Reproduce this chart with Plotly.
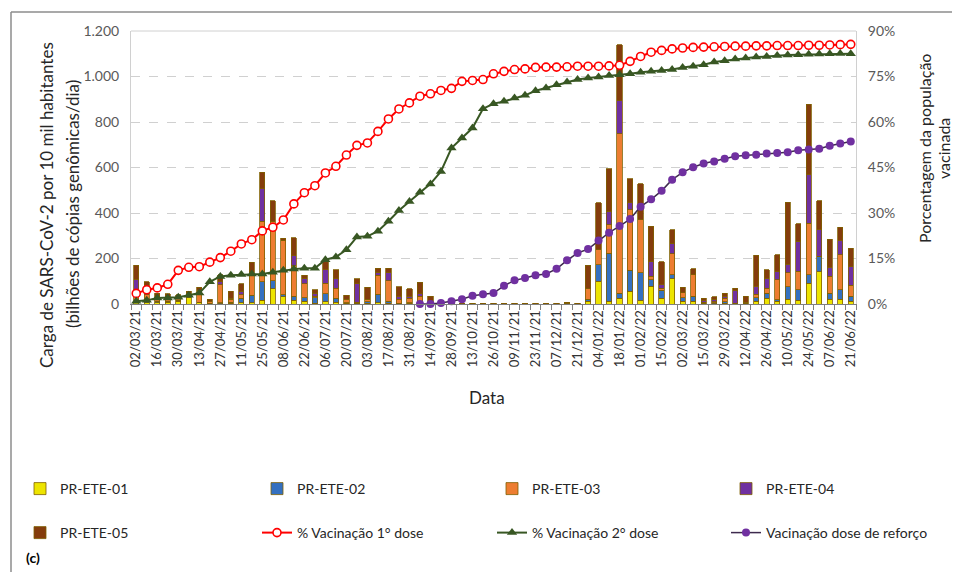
import plotly.graph_objects as go

datas = ["02/03/21", "09/03/21", "16/03/21", "23/03/21", "30/03/21", "06/04/21", "13/04/21", "20/04/21",
         "27/04/21", "04/05/21", "11/05/21", "18/05/21", "25/05/21", "01/06/21", "08/06/21", "15/06/21",
         "22/06/21", "29/06/21", "06/07/21", "13/07/21", "20/07/21", "27/07/21", "03/08/21", "10/08/21",
         "17/08/21", "24/08/21", "31/08/21", "07/09/21", "14/09/21", "21/09/21", "28/09/21", "05/10/21",
         "13/10/21", "19/10/21", "26/10/21", "02/11/21", "09/11/21", "16/11/21", "23/11/21", "30/11/21",
         "07/12/21", "14/12/21", "21/12/21", "28/12/21", "04/01/22", "11/01/22", "18/01/22", "25/01/22",
         "01/02/22", "08/02/22", "15/02/22", "22/02/22", "02/03/22", "08/03/22", "15/03/22", "22/03/22",
         "29/03/22", "05/04/22", "12/04/22", "19/04/22", "26/04/22", "03/05/22", "10/05/22", "17/05/22",
         "24/05/22", "31/05/22", "07/06/22", "14/06/22", "21/06/22"]

ete01 = [5, 5, 6, 8, 12, 30, 5, 2, 2, 3, 6, 5, 16, 67, 31, 16, 12, 3, 10, 7, 3, 2, 3, 6, 4, 2, 3, 5, 1,
         0, 0, 0, 0, 0, 0, 0, 0, 0, 0, 0, 0, 0, 0, 12, 100, 12, 26, 56, 15, 78, 25, 110, 12, 12, 3, 2, 4,
         4, 3, 12, 26, 12, 22, 16, 92, 141, 22, 22, 12]
ete02 = [8, 10, 6, 5, 4, 3, 3, 2, 3, 5, 20, 34, 81, 35, 10, 18, 15, 25, 35, 19, 3, 2, 6, 37, 8, 2, 3, 7, 2,
         0, 0, 0, 0, 0, 0, 0, 0, 0, 0, 0, 0, 0, 0, 10, 73, 212, 22, 92, 122, 29, 35, 19, 15, 22, 4, 4, 7,
         0, 0, 15, 22, 7, 53, 47, 37, 69, 26, 41, 22]
ete03 = [25, 25, 12, 12, 10, 10, 50, 5, 80, 12, 15, 95, 267, 261, 239, 135, 62, 5, 47, 44, 12, 3, 10, 84,
         91, 18, 20, 22, 5, 0, 0, 0, 0, 0, 0, 0, 0, 0, 0, 0, 0, 0, 0, 44, 66, 125, 700, 267, 234, 15, 10,
         92, 22, 95, 0, 5, 15, 0, 0, 15, 22, 88, 62, 81, 227, 0, 73, 154, 48]
ete04 = [70, 25, 10, 5, 5, 3, 3, 3, 12, 6, 14, 5, 142, 0, 0, 44, 21, 15, 58, 40, 2, 82, 3, 12, 34, 12, 7,
         10, 3, 1, 0, 0, 2, 0, 0, 0, 0, 0, 0, 0, 0, 3, 0, 0, 0, 59, 145, 29, 0, 63, 15, 44, 0, 0, 9, 10, 7,
         56, 5, 37, 44, 34, 37, 132, 212, 117, 41, 63, 82]
ete05 = [63, 32, 14, 14, 10, 10, 12, 10, 32, 30, 34, 44, 73, 91, 10, 78, 16, 15, 35, 41, 18, 22, 51, 18,
         20, 42, 34, 51, 22, 2, 3, 3, 2, 3, 3, 3, 3, 4, 3, 3, 3, 4, 3, 105, 205, 186, 246, 107, 157, 157,
         100, 62, 25, 26, 10, 10, 15, 10, 26, 136, 37, 76, 274, 76, 311, 127, 123, 57, 82]

vac1 = [3.5, 4.7, 5.3, 6.5, 11.1, 12.1, 12.3, 13.8, 15.3, 17.4, 19.8, 21.2, 24.1, 25.3, 27.7, 33.0, 36.7,
        39.0, 43.2, 45.4, 49.1, 52.3, 53.1, 56.9, 61.0, 64.3, 66.3, 68.5, 69.3, 70.4, 71.1, 73.4, 73.7,
        74.0, 75.9, 76.7, 77.3, 77.5, 78.0, 78.1, 78.1, 78.2, 78.4, 78.4, 78.4, 78.5, 78.7, 80.0, 81.6,
        83.0, 83.6, 84.1, 84.4, 84.6, 84.7, 84.8, 84.9, 85.0, 85.0, 85.1, 85.1, 85.2, 85.2, 85.2, 85.3,
        85.3, 85.4, 85.5, 85.6]
vac2 = [0.9, 1.2, 2.0, 2.0, 2.2, 2.9, 3.6, 7.3, 9.1, 9.5, 9.7, 9.9, 9.9, 10.5, 11.1, 11.5, 11.8, 11.8,
        14.6, 15.5, 17.9, 22.1, 22.3, 24.0, 27.3, 30.8, 33.8, 36.8, 39.6, 43.7, 51.4, 54.7, 58.0, 64.4,
        66.0, 66.8, 67.9, 68.8, 70.3, 71.2, 72.3, 73.2, 74.0, 74.5, 74.8, 75.3, 75.6, 75.9, 76.4, 76.7,
        77.0, 77.3, 78.0, 78.4, 78.9, 79.8, 80.2, 80.8, 81.1, 81.4, 81.6, 81.9, 82.1, 82.2, 82.3, 82.4,
        82.5, 82.6, 82.5]
vacref = [None] * 27 + [0.0, 0.0, 0.3, 0.9, 1.6, 2.7, 3.2, 3.6, 6.0, 7.8, 8.6, 9.5, 9.9, 11.6, 14.4, 16.8,
                        18.1, 20.9, 23.5, 25.7, 28.0, 32.1, 34.5, 37.3, 41.0, 43.4, 45.1, 46.3, 47.0,
                        47.9, 48.7, 49.0, 49.2, 49.6, 49.8, 50.0, 50.7, 50.9, 51.2, 52.2, 52.9, 53.6]

tick_labels = [d if i % 2 == 0 else "" for i, d in enumerate(datas)]

FONT = "Lato"
TITLE_FONT = dict(family=FONT, size=17, color="#262626")
RTITLE_FONT = dict(family=FONT, size=16, color="#262626")
fig = go.Figure()

bar_series = [
    ("PR-ETE-01", ete01, "#EDE400", "legend"),
    ("PR-ETE-02", ete02, "#3470C0", "legend2"),
    ("PR-ETE-03", ete03, "#ED7D31", "legend3"),
    ("PR-ETE-04", ete04, "#7030A0", "legend4"),
    ("PR-ETE-05", ete05, "#843C0C", "legend5"),
]
for name, vals, col, lg in bar_series:
    fig.add_trace(go.Bar(x=datas, y=vals, name=name,
                         marker=dict(color=col, line=dict(color="#7F6000", width=0.8)),
                         width=0.5, yaxis="y", legend=lg, showlegend=True))

fig.add_trace(go.Scatter(x=datas, y=vac1, name="% Vacinação 1° dose", yaxis="y2", mode="lines+markers",
                         line=dict(color="#FF0000", width=2),
                         marker=dict(symbol="circle", size=8, color="white", line=dict(color="#FF0000", width=1.6)),
                         cliponaxis=False, legend="legend6", showlegend=True))
fig.add_trace(go.Scatter(x=datas, y=vac2, name="% Vacinação 2° dose", yaxis="y2", mode="lines+markers",
                         line=dict(color="#385723", width=2),
                         marker=dict(symbol="triangle-up", size=9, color="#385723"),
                         cliponaxis=False, legend="legend7", showlegend=True))
fig.add_trace(go.Scatter(x=datas, y=vacref, name="Vacinação dose de reforço", yaxis="y2", mode="lines+markers",
                         line=dict(color="#3E2A4E", width=1.5),
                         marker=dict(symbol="circle", size=8, color="#7030A0"),
                         cliponaxis=False, legend="legend8", showlegend=True))

# page offset of the plot div (browser body margin)
OFF = 8
W, H = 952, 564
L, R, T = 123, 104, 23
B = 268
PW, PH = W - L - R, H - T - B


def px(xs):
    return (xs - OFF - L) / PW


def py(ys):
    return (H - B - (ys - OFF)) / PH


legend_font = dict(family=FONT, size=14, color="#262626")
cols = [20, 257, 492, 726]
rows = [489, 533]
legend_pos = {
    "legend": (cols[0], rows[0]), "legend2": (cols[1], rows[0]), "legend3": (cols[2], rows[0]),
    "legend4": (cols[3], rows[0]), "legend5": (cols[0], rows[1]), "legend6": (cols[1], rows[1]),
    "legend7": (cols[2], rows[1]), "legend8": (cols[3], rows[1]),
}
legends = {}
for k, (lx, ly) in legend_pos.items():
    legends[k] = dict(x=px(lx), y=py(ly), xanchor="left", yanchor="middle", font=legend_font,
                      bgcolor="rgba(0,0,0,0)", itemwidth=30, visible=True)

fig.update_layout(
    width=W, height=H,
    margin=dict(l=L, r=R, t=T, b=B),
    paper_bgcolor="white", plot_bgcolor="white",
    showlegend=True,
    barmode="stack", bargap=0.5,
    separators=",.",
    font=dict(family=FONT, size=14, color="#404040"),
    xaxis=dict(type="category", categoryorder="array", categoryarray=datas,
               tickmode="array", tickvals=datas, ticktext=tick_labels, tickson="boundaries",
               tickangle=-90, ticks="outside", ticklen=5, tickcolor="#808080",
               showline=True, linecolor="#808080", linewidth=1, showgrid=False,
               range=[-0.5, len(datas) - 0.5], tickfont=dict(family=FONT, size=13, color="#333333")),
    yaxis=dict(range=[0, 1200], dtick=200, tickformat=",", showgrid=True, gridcolor="#D0D0D0",
               griddash="dash", gridwidth=1, zeroline=False, showline=True, linecolor="#D0D0D0",
               ticks="outside", ticklen=8, tickcolor="rgba(0,0,0,0)",
               tickfont=dict(family=FONT, size=14, color="#595959")),
    yaxis2=dict(range=[0, 90], dtick=15, ticksuffix="%", overlaying="y", side="right", showgrid=False,
                zeroline=False, showline=True, linecolor="#D0D0D0",
                ticks="outside", ticklen=8, tickcolor="rgba(0,0,0,0)",
                tickfont=dict(family=FONT, size=14, color="#595959")),
    **legends,
    shapes=[
        dict(type="line", xref="paper", yref="paper", x0=0, x1=1, y0=1, y1=1,
             line=dict(color="#D0D0D0", width=1)),
        dict(type="line", xref="paper", yref="paper", x0=px(11), x1=px(11), y0=py(12), y1=py(575),
             line=dict(color="#8C8C8C", width=1.5), layer="above"),
        dict(type="line", xref="paper", yref="paper", x0=px(11), x1=px(965), y0=py(12), y1=py(12),
             line=dict(color="#8C8C8C", width=1.5), layer="above"),
    ],
    annotations=[
        dict(text="Carga de SARS-CoV-2 por 10 mil habitantes", xref="paper", yref="paper",
             x=px(46), y=py(205), textangle=-90, showarrow=False, xanchor="center", yanchor="middle",
             font=TITLE_FONT),
        dict(text="(bilhões de cópias genômicas/dia)", xref="paper", yref="paper",
             x=px(72), y=py(204), textangle=-90, showarrow=False, xanchor="center", yanchor="middle",
             font=TITLE_FONT),
        dict(text="Porcentagem da população", xref="paper", yref="paper",
             x=px(924), y=py(149), textangle=-90, showarrow=False, xanchor="center", yanchor="middle",
             font=RTITLE_FONT),
        dict(text="vacinada", xref="paper", yref="paper",
             x=px(943), y=py(149), textangle=-90, showarrow=False, xanchor="center", yanchor="middle",
             font=RTITLE_FONT),
        dict(text="Data", xref="paper", yref="paper", x=px(487), y=py(397), showarrow=False,
             xanchor="center", yanchor="middle", font=TITLE_FONT),
        dict(text="<b>(c)</b>", xref="paper", yref="paper", x=px(24), y=py(557), showarrow=False,
             xanchor="left", yanchor="middle", font=dict(family=FONT, size=14, color="#000000")),
    ],
)

fig.write_html("out.html")
